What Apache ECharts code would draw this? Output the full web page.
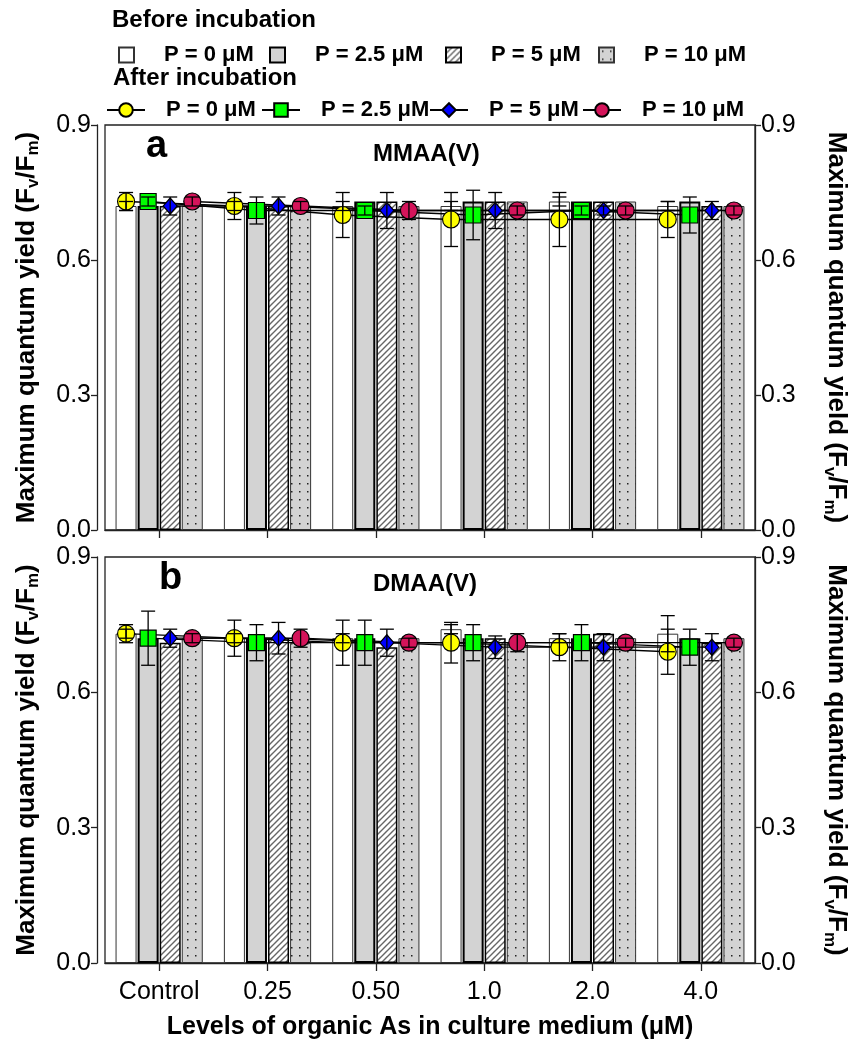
<!DOCTYPE html>
<html>
<head>
<meta charset="utf-8">
<script src="https://cdn.jsdelivr.net/npm/echarts@6/dist/echarts.min.js"></script>
<style>
html, body { margin: 0; padding: 0; background: #fff; }
#chart { width: 857px; height: 1042px; }
</style>
</head>
<body>
<div id="chart"></div>
<script>
// categories and ticks
const levels = ['Control', '0.25', '0.50', '1.0', '2.0', '4.0'];
const yTicks = [0, 0.3, 0.6, 0.9];

// panel a - MMAA(V): bars = before incubation, markers = after incubation
const mmaaBefore0 = [0.72, 0.72, 0.72, 0.72, 0.73, 0.72];
const mmaaBefore25 = [0.72, 0.72, 0.73, 0.73, 0.73, 0.73];
const mmaaBefore5 = [0.72, 0.72, 0.73, 0.73, 0.73, 0.72];
const mmaaBefore10 = [0.72, 0.72, 0.72, 0.73, 0.73, 0.72];
const mmaaAfter0 = [0.73, 0.72, 0.70, 0.69, 0.69, 0.69];
const mmaaAfter25 = [0.73, 0.71, 0.71, 0.70, 0.71, 0.70];
const mmaaAfter5 = [0.72, 0.72, 0.71, 0.71, 0.71, 0.71];
const mmaaAfter10 = [0.73, 0.72, 0.71, 0.71, 0.71, 0.71];
const mmaaErr0 = [0.02, 0.03, 0.05, 0.06, 0.06, 0.04];
const mmaaErr25 = [0.01, 0.03, 0.01, 0.055, 0.01, 0.04];
const mmaaErr5 = [0.02, 0.02, 0.04, 0.04, 0.01, 0.02];
const mmaaErr10 = [0.01, 0.01, 0.02, 0.01, 0.01, 0.01];
const mmaaBeforeErr0 = [0.01, 0.01, 0.01, 0.01, 0.01, 0.01];

// panel b - DMAA(V)
const dmaaBefore0 = [0.73, 0.72, 0.72, 0.74, 0.72, 0.73];
const dmaaBefore25 = [0.72, 0.72, 0.72, 0.72, 0.72, 0.72];
const dmaaBefore5 = [0.71, 0.72, 0.70, 0.72, 0.73, 0.71];
const dmaaBefore10 = [0.72, 0.71, 0.72, 0.71, 0.72, 0.72];
const dmaaAfter0 = [0.73, 0.72, 0.71, 0.71, 0.70, 0.69];
const dmaaAfter25 = [0.72, 0.71, 0.71, 0.71, 0.71, 0.70];
const dmaaAfter5 = [0.72, 0.72, 0.71, 0.70, 0.70, 0.70];
const dmaaAfter10 = [0.72, 0.72, 0.71, 0.71, 0.71, 0.71];
const dmaaErr0 = [0.02, 0.04, 0.05, 0.045, 0.03, 0.05];
const dmaaErr25 = [0.06, 0.04, 0.05, 0.04, 0.04, 0.04];
const dmaaErr5 = [0.02, 0.035, 0.03, 0.025, 0.03, 0.03];
const dmaaErr10 = [0.01, 0.02, 0.01, 0.02, 0.01, 0.01];
const dmaaBeforeErr0 = [0.01, 0.01, 0.01, 0.01, 0.01, 0.04];

const FONT = '"Liberation Sans", Arial, sans-serif';
const BAR_W = 0.194;   // bar width as share of a category band
const BAR_GAP = 0.05;  // gap between bars as share of bar width

// x offset of bar k inside its category, in category units
const barOffset = k => (k - 1.5) * BAR_W * (1 + BAR_GAP);

function hatchTile() {
  const c = document.createElement('canvas');
  c.width = 6; c.height = 6;
  const g = c.getContext('2d');
  g.fillStyle = '#fff';
  g.fillRect(0, 0, 6, 6);
  g.strokeStyle = '#666';
  g.lineWidth = 1.4;
  g.beginPath();
  g.moveTo(0, 6); g.lineTo(6, 0);
  g.moveTo(-1, 1); g.lineTo(1, -1);
  g.moveTo(5, 7); g.lineTo(7, 5);
  g.stroke();
  return c;
}

function dotTile() {
  const c = document.createElement('canvas');
  c.width = 8; c.height = 8;
  const g = c.getContext('2d');
  g.fillStyle = '#d3d3d3';
  g.fillRect(0, 0, 8, 8);
  g.fillStyle = '#222';
  g.fillRect(3, 3, 1.5, 1.5);
  return c;
}

const barStyles = [
  { color: '#fff', borderColor: '#333', borderWidth: 1 },
  { color: '#d3d3d3', borderColor: '#000', borderWidth: 2 },
  { color: { image: hatchTile(), repeat: 'repeat' }, borderColor: '#000', borderWidth: 1.5 },
  { color: { image: dotTile(), repeat: 'repeat' }, borderColor: '#333', borderWidth: 1 }
];
const markerStyles = [
  { symbol: 'circle', size: 17, color: '#ffff00' },
  { symbol: 'rect', size: 16, color: '#00ff00' },
  { symbol: 'diamond', size: [14, 16], color: '#0000ff' },
  { symbol: 'circle', size: 17, color: '#d4145a' }
];
const beforeNames = ['before-0', 'before-2.5', 'before-5', 'before-10'];
const afterNames = ['after-0', 'after-2.5', 'after-5', 'after-10'];
const legendText = ['P = 0 \u03bcM', 'P = 2.5 \u03bcM', 'P = 5 \u03bcM', 'P = 10 \u03bcM'];

function renderErr(params, api) {
  const x = api.value(0), y = api.value(1), e = api.value(2);
  const top = api.coord([x, y + e]);
  const bot = api.coord([x, y - e]);
  const cap = 7;
  const st = { stroke: '#000', lineWidth: 1.3 };
  return {
    type: 'group',
    children: [
      { type: 'line', shape: { x1: top[0], y1: top[1], x2: bot[0], y2: bot[1] }, style: st },
      { type: 'line', shape: { x1: top[0] - cap, y1: top[1], x2: top[0] + cap, y2: top[1] }, style: st },
      { type: 'line', shape: { x1: bot[0] - cap, y1: bot[1], x2: bot[0] + cap, y2: bot[1] }, style: st }
    ]
  };
}

function panelSeries(p, before, after, errs, beforeErr0) {
  const xCat = p * 2, xVal = p * 2 + 1, yIdx = p * 2;
  const out = [];
  before.forEach((arr, k) => {
    out.push({
      name: beforeNames[k], type: 'bar', xAxisIndex: xCat, yAxisIndex: yIdx,
      data: arr, barWidth: (BAR_W * 100) + '%', barGap: (BAR_GAP * 100) + '%',
      itemStyle: barStyles[k], z: 2, silent: true
    });
  });
  after.forEach((arr, k) => {
    const m = markerStyles[k];
    out.push({
      name: afterNames[k], type: 'line', xAxisIndex: xVal, yAxisIndex: yIdx,
      data: arr.map((v, i) => [i + barOffset(k), v]),
      symbol: m.symbol, symbolSize: m.size, showAllSymbol: true,
      lineStyle: { color: '#000', width: 1.3 },
      itemStyle: { color: m.color, borderColor: '#000', borderWidth: 1.2 },
      z: 3, silent: true
    });
  });
  const errData = [];
  errs.forEach((arr, k) => arr.forEach((e, i) => errData.push([i + barOffset(k), after[k][i], e])));
  beforeErr0.forEach((e, i) => errData.push([i + barOffset(0), before[0][i], e]));
  out.push({
    type: 'custom', xAxisIndex: xVal, yAxisIndex: yIdx, renderItem: renderErr,
    data: errData, z: 4, silent: true
  });
  return out;
}

const yName = '{t|Maximum quantum yield (F}{s|v}{t|/F}{s|m}{t|)}';
const yNameRich = {
  t: { fontFamily: FONT, fontWeight: 'bold', fontSize: 26, color: '#000' },
  s: { fontFamily: FONT, fontWeight: 'bold', fontSize: 17, color: '#000', verticalAlign: 'bottom', padding: [13, 0, 0, 0] }
};

function yAxes(gi) {
  const common = {
    gridIndex: gi, type: 'value', min: yTicks[0], max: yTicks[yTicks.length - 1],
    interval: yTicks[1] - yTicks[0],
    splitLine: { show: false },
    axisLine: { show: true, onZero: false, lineStyle: { color: '#222', width: 1.3 } },
    axisTick: { show: true, length: 6, lineStyle: { color: '#222', width: 1.3 } },
    axisLabel: { fontFamily: FONT, fontSize: 25, color: '#000', margin: 6, formatter: v => v.toFixed(1) },
    name: yName, nameLocation: 'middle',
    nameTextStyle: { rich: yNameRich }
  };
  return [
    Object.assign({}, common, { position: 'left', offset: 8, nameRotate: 90, nameGap: 55 }),
    Object.assign({}, common, { position: 'right', nameRotate: -90, nameGap: 66 })
  ];
}

function xAxes(gi, showLabels) {
  const cat = {
    gridIndex: gi, type: 'category', data: levels,
    axisLine: { show: true, onZero: false, lineStyle: { color: '#222', width: 1.3 } },
    axisTick: { show: true, alignWithLabel: true, length: 8, lineStyle: { color: '#222', width: 1.3 } },
    axisLabel: { show: showLabels, fontFamily: FONT, fontSize: 25, color: '#000', margin: 17 }
  };
  if (showLabels) {
    Object.assign(cat, {
      name: 'Levels of organic As in culture medium (\u03bcM)', nameLocation: 'middle', nameGap: 52,
      nameTextStyle: { fontFamily: FONT, fontWeight: 'bold', fontSize: 25, color: '#000' }
    });
  }
  const val = {
    gridIndex: gi, type: 'value', min: -0.5, max: levels.length - 0.5, show: false,
    axisLine: { onZero: false }
  };
  return [cat, val];
}

function legendItem(name, text, left, top, isLine) {
  return {
    data: [name], left: left, top: top, selectedMode: false,
    itemWidth: isLine ? 38 : 15, itemHeight: isLine ? 17 : 15,
    icon: isLine ? undefined : 'rect',
    formatter: () => text,
    textStyle: { fontFamily: FONT, fontWeight: 'bold', fontSize: 22, color: '#000', padding: [0, 0, 0, isLine ? 16 : 25] }
  };
}

const beforeLefts = [113, 264, 440, 593];
const afterLefts = [101, 256, 424, 577];
const legends = [];
beforeNames.forEach((n, k) => legends.push(legendItem(n, legendText[k], beforeLefts[k], 39, false)));
afterNames.forEach((n, k) => legends.push(legendItem(n, legendText[k], afterLefts[k], 94, true)));

const chart = echarts.init(document.getElementById('chart'));
chart.setOption({
  animation: false,
  backgroundColor: '#fff',
  grid: [
    { left: 105, top: 125, width: 650, height: 405, show: true, borderColor: '#222', borderWidth: 1.3, backgroundColor: 'transparent' },
    { left: 105, top: 557, width: 650, height: 406, show: true, borderColor: '#222', borderWidth: 1.3, backgroundColor: 'transparent' }
  ],
  xAxis: xAxes(0, false).concat(xAxes(1, true)),
  yAxis: yAxes(0).concat(yAxes(1)),
  legend: legends,
  graphic: [
    { type: 'text', left: 112, top: 8, style: { text: 'Before incubation', font: 'bold 24px ' + FONT, fill: '#000' } },
    { type: 'text', left: 113, top: 66, style: { text: 'After incubation', font: 'bold 24px ' + FONT, fill: '#000' } },
    { type: 'text', left: 146, top: 128, style: { text: 'a', font: 'bold 38px ' + FONT, fill: '#000' } },
    { type: 'text', left: 373, top: 142, style: { text: 'MMAA(V)', font: 'bold 24px ' + FONT, fill: '#000' } },
    { type: 'text', left: 159, top: 560, style: { text: 'b', font: 'bold 38px ' + FONT, fill: '#000' } },
    { type: 'text', left: 373, top: 572, style: { text: 'DMAA(V)', font: 'bold 24px ' + FONT, fill: '#000' } }
  ],
  series: panelSeries(0,
      [mmaaBefore0, mmaaBefore25, mmaaBefore5, mmaaBefore10],
      [mmaaAfter0, mmaaAfter25, mmaaAfter5, mmaaAfter10],
      [mmaaErr0, mmaaErr25, mmaaErr5, mmaaErr10], mmaaBeforeErr0)
    .concat(panelSeries(1,
      [dmaaBefore0, dmaaBefore25, dmaaBefore5, dmaaBefore10],
      [dmaaAfter0, dmaaAfter25, dmaaAfter5, dmaaAfter10],
      [dmaaErr0, dmaaErr25, dmaaErr5, dmaaErr10], dmaaBeforeErr0))
});
</script>
</body>
</html>
